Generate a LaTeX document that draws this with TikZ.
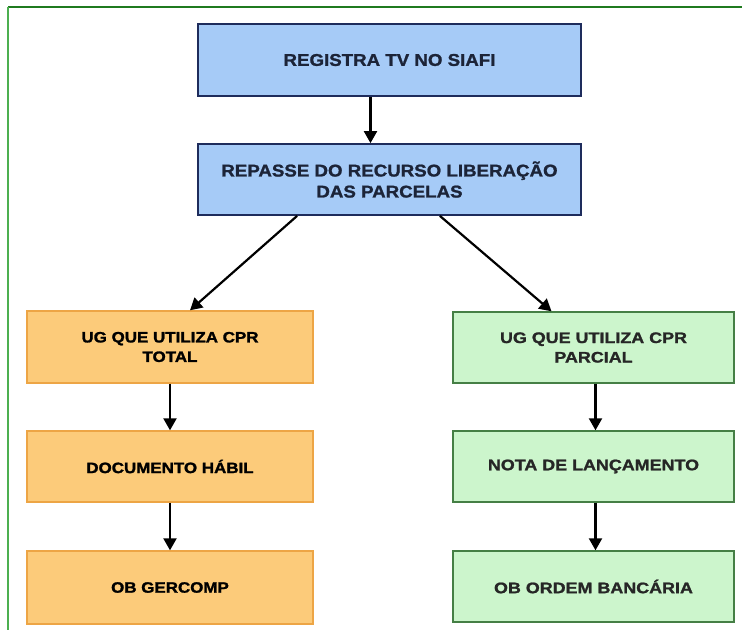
\documentclass[tikz,border=0pt]{standalone}
\usepackage{fontspec}
\setmainfont{Liberation Sans}
\newfontfamily\bluefont{Liberation Sans}[FakeStretch=1.1, BoldFeatures={FakeBold=1.3}]
\newfontfamily\orfont{Liberation Sans}[FakeStretch=1.13, BoldFeatures={FakeBold=1.6}]
\newfontfamily\grfont{Liberation Sans}[FakeStretch=1.17, BoldFeatures={FakeBold=1.3}]
\usetikzlibrary{arrows.meta}
\definecolor{bluefill}{HTML}{A6CBF7}
\definecolor{blueline}{HTML}{1E2C5C}
\definecolor{bluetext}{HTML}{1C2438}
\definecolor{orfill}{HTML}{FCCB7A}
\definecolor{orline}{HTML}{EDA545}
\definecolor{grfill}{HTML}{CCF5CC}
\definecolor{grline}{HTML}{457F45}
\definecolor{frametop}{HTML}{1F7A1F}
\definecolor{frameleft}{HTML}{4CAF50}
\tikzset{
  bluebox/.style={draw=blueline, line width=1.8pt, fill=bluefill, text=bluetext,
    minimum width=383pt, inner sep=0pt, align=center,
    font=\bluefont\fontsize{17}{21}\selectfont\bfseries},
  orbox/.style={draw=orline, line width=1.4pt, fill=orfill, text=black,
    minimum width=286pt, inner sep=0pt, align=center,
    font=\orfont\fontsize{15}{19.5}\selectfont\bfseries},
  grbox/.style={draw=grline, line width=1.4pt, fill=grfill, text=black!85,
    minimum width=281pt, inner sep=0pt, align=center,
    font=\grfont\fontsize{15.3}{19.5}\selectfont\bfseries},
  conn/.style={line width=2.2pt, draw=black, -{Triangle[width=13pt,length=12pt]}}
}
\begin{document}
\begin{tikzpicture}[x=1pt,y=-1pt]
\useasboundingbox (0,0) rectangle (742,630);
\draw[frametop, line width=1.5pt] (8,7) -- (742,7);
\draw[frameleft, line width=1.5pt] (8,7) -- (8,630);

\node[bluebox, minimum height=72pt] (reg) at (389.5,60) {REGISTRA TV NO SIAFI};
\node[bluebox, minimum height=71pt] (rep) at (389.5,179.5) {REPASSE DO RECURSO LIBERAÇÃO\\DAS PARCELAS};

\node[orbox, minimum height=72pt] (o1) at (170,347) {UG QUE UTILIZA CPR\\TOTAL};
\node[orbox, minimum height=71pt] (o2) at (170,466.5) {DOCUMENTO HÁBIL};
\node[orbox, minimum height=73pt] (o3) at (170,587.5) {OB GERCOMP};

\node[grbox, minimum height=71pt] (g1) at (593.5,347.5) {UG QUE UTILIZA CPR\\PARCIAL};
\node[grbox, minimum height=71pt] (g2) at (593.5,466.5) {NOTA DE LANÇAMENTO};
\node[grbox, minimum height=71pt] (g3) at (593.5,586.5) {OB ORDEM BANCÁRIA};

\draw[conn] ([xshift=-19pt]reg.south) -- ([xshift=-19pt]rep.north);
\draw[conn] ([xshift=100pt]rep.south west) -- ([xshift=20pt]o1.north);
\draw[conn] ([xshift=-142pt]rep.south east) -- ([xshift=-42pt]g1.north);
\draw[conn] (o1) -- (o2);
\draw[conn] (o2) -- (o3);
\draw[conn] ([xshift=2pt]g1.south) -- ([xshift=2pt]g2.north);
\draw[conn] ([xshift=2pt]g2.south) -- ([xshift=2pt]g3.north);
\end{tikzpicture}
\end{document}
